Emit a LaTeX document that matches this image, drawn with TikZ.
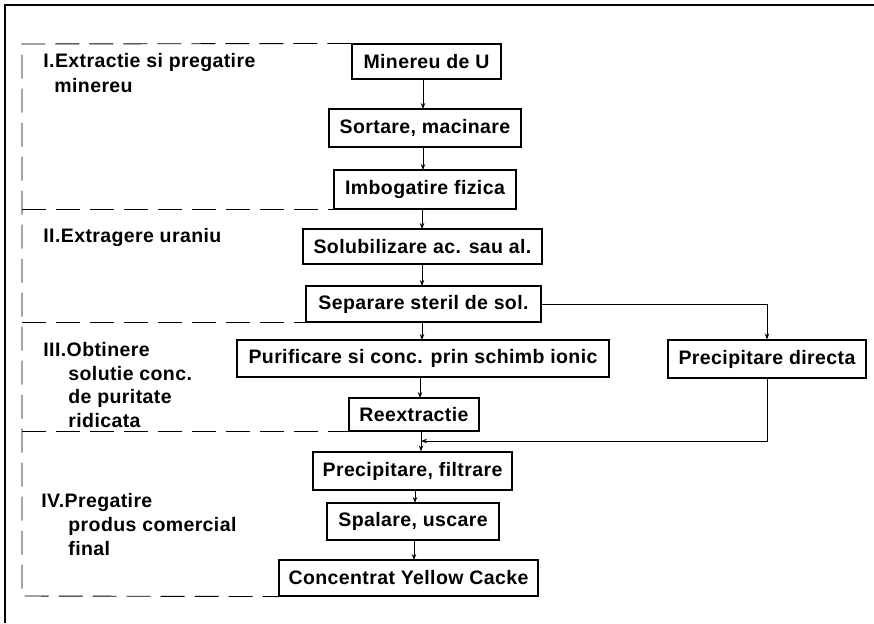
\documentclass[tikz,border=0pt]{standalone}
\usepackage{fontspec}
\setmainfont{Liberation Sans}[LetterSpace=2]
\usepackage{tikz}
\usetikzlibrary{arrows.meta}

\begin{document}
\begin{tikzpicture}[
            x = 1pt, y = -1pt, % pixel like units
            > = {Stealth[length=6pt,width=4.5pt]}, % arrow head style
            line width = 0.9pt, % line style
            box/.style = {shape=rectangle, draw=black, line width=1.1pt, inner sep=0pt, font=\fontsize{19.5}{22}\selectfont\bfseries},
            phase/.style = {draw=black, line width=0.9pt, dash pattern=on 24pt off 10pt},
            stage/.style = {anchor=west, inner sep=0pt, font=\fontsize{19.5}{22}\selectfont\bfseries},
            flow/.style = {->, line width=0.8pt}
        ]
\useasboundingbox (0,0) rectangle (874,623);
\draw[line width=1.2pt] (5,623) -- (5,5) -- (874,5);

\node[box, minimum width=149, minimum height=35] (mine) at (426.5,61.5) {Minereu de U};
\node[box, minimum width=192, minimum height=38] (sort) at (425,128) {Sortare, macinare};
\node[box, minimum width=182, minimum height=39] (imbo) at (425,189.5) {Imbogatire fizica};
\node[box, minimum width=239, minimum height=35] (solu) at (422.5,246.5) {Solubilizare ac. sau al.};
\node[box, minimum width=235, minimum height=36] (sepa) at (423.5,304) {Separare steril de sol.};
\node[box, minimum width=372, minimum height=37] (puri) at (423,358.5) {Purificare si conc. prin schimb ionic};
\node[box, minimum width=130, minimum height=33] (reex) at (414,414.5) {Reextractie};
\node[box, minimum width=198, minimum height=38] (pdir) at (767,359) {Precipitare directa};
\node[box, minimum width=199, minimum height=38] (filt) at (412.5,471) {Precipitare, filtrare};
\node[box, minimum width=172, minimum height=37] (spal) at (413,521.5) {Spalare, uscare};
\node[box, minimum width=259, minimum height=36] (conc) at (408.5,578) {Concentrat Yellow Cacke};

\node[stage] (s1a) at (43,63) {I.Extractie si pregatire};
\node[stage] (s1b) at (54,86) {minereu};
\node[stage] (s2) at (43,237) {II.Extragere uraniu};
\node[stage] (s3a) at (43,350) {III.Obtinere};
\node[stage] (s3b) at (68,374) {solutie conc.};
\node[stage] (s3c) at (68,398) {de puritate};
\node[stage] (s3d) at (68,421) {ridicata};
\node[stage] (s4a) at (41,502) {IV.Pregatire};
\node[stage] (s4b) at (68,526) {produs comercial};
\node[stage] (s4c) at (68,549) {final};

% phases
\coordinate (tl) at (22,44);
\coordinate (bl) at (22,596);
\draw[phase] (mine.north west) -- (tl) -- (bl) -- (conc.south west);
\draw[phase] (tl |- imbo.south) -- (imbo.south west);
\draw[phase] (tl |- sepa.south) -- (sepa.south west);
\draw[phase] (tl |- reex.south) -- (reex.south west);

% main line
\coordinate (join) at (421,441);
\draw[flow] (423,79) -- (423,109);
\draw[flow] (423,147) -- (423,170);
\draw[flow] (422,209) -- (422,229);
\draw[flow] (422,264) -- (422,286);
\draw[flow] (422,322) -- (422,340);
\draw[flow] (420,377) -- (420,398);
\draw[flow] (reex.south -| join) -- (filt.north -| join);
\draw[flow] (415,490) -- (415,503);
\draw[flow] (414,540) -- (414,560);

% direct precipitation
\draw[flow] (sepa.east) -| (pdir.north);
\draw[flow] (pdir.south) |- (join);
\end{tikzpicture}
\end{document}
